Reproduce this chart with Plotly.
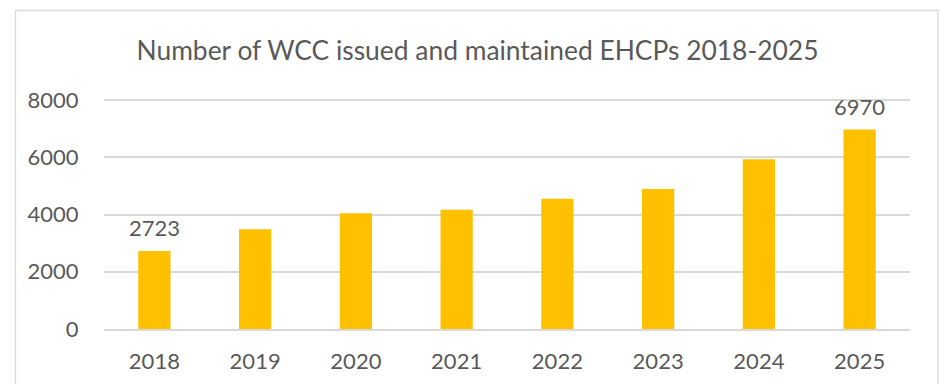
import plotly.graph_objects as go

# EHCP counts by year
years = ["2018", "2019", "2020", "2021", "2022", "2023", "2024", "2025"]
ehcps = [2723, 3490, 4045, 4165, 4550, 4895, 5930, 6970]
labelled_years = ["2018", "2025"]
y_ticks = [0, 2000, 4000, 6000, 8000]
y_max = 8040

W, H = 941, 384
ml, mr, mt, mb = 104, 31, 99, 55
pw, ph = W - ml - mr, H - mt - mb

text_color = "#595959"
font = "Lato"

fig = go.Figure(
    go.Bar(
        x=years,
        y=ehcps,
        marker=dict(color="#FFC000", line=dict(width=0)),
        hoverinfo="x+y",
    )
)

# value labels above the first and last bars (x given as category index)
for i, (yr, val) in enumerate(zip(years, ehcps)):
    if yr in labelled_years:
        fig.add_annotation(
            x=i, y=val, text=str(val), showarrow=False,
            yanchor="bottom", yshift=8,
            font=dict(family=font, size=22, color=text_color),
        )

# light outline around the whole chart
def px_x(p):
    return (p - ml) / pw

def px_y(p):
    return (H - mb - p) / ph

fig.add_shape(
    type="rect", xref="paper", yref="paper",
    x0=px_x(15.5), x1=px_x(938), y0=px_y(10.5), y1=px_y(400),
    line=dict(color="#D9D9D9", width=1.3), fillcolor="rgba(0,0,0,0)",
    layer="below",
)

fig.update_layout(
    width=W, height=H,
    margin=dict(l=ml, r=mr, t=mt, b=mb, autoexpand=False),
    paper_bgcolor="white", plot_bgcolor="white",
    bargap=0.68,
    showlegend=False,
    title=dict(
        text="Number of WCC issued and maintained EHCPs 2018-2025",
        x=477.5 / W, xanchor="center", xref="container",
        y=1 - 51 / H, yanchor="middle", yref="container",
        font=dict(family=font, size=26.4, color=text_color),
    ),
    font=dict(family=font, color=text_color),
)

fig.update_xaxes(
    type="category", categoryorder="array", categoryarray=years,
    automargin=False,
    showgrid=False, showline=True, linecolor="#D9D9D9", linewidth=1.5,
    ticks="outside", ticklen=12, tickcolor="rgba(0,0,0,0)",
    tickfont=dict(family=font, size=22, color=text_color),
)
fig.update_yaxes(
    range=[0, y_max], tickvals=y_ticks, ticktext=[str(v) for v in y_ticks],
    automargin=False,
    showgrid=True, gridcolor="#D9D9D9", gridwidth=1.5, zeroline=False,
    showline=False, ticks="outside", ticklen=20, tickcolor="rgba(0,0,0,0)",
    tickfont=dict(family=font, size=22, color=text_color),
)

fig.write_html("out.html")
